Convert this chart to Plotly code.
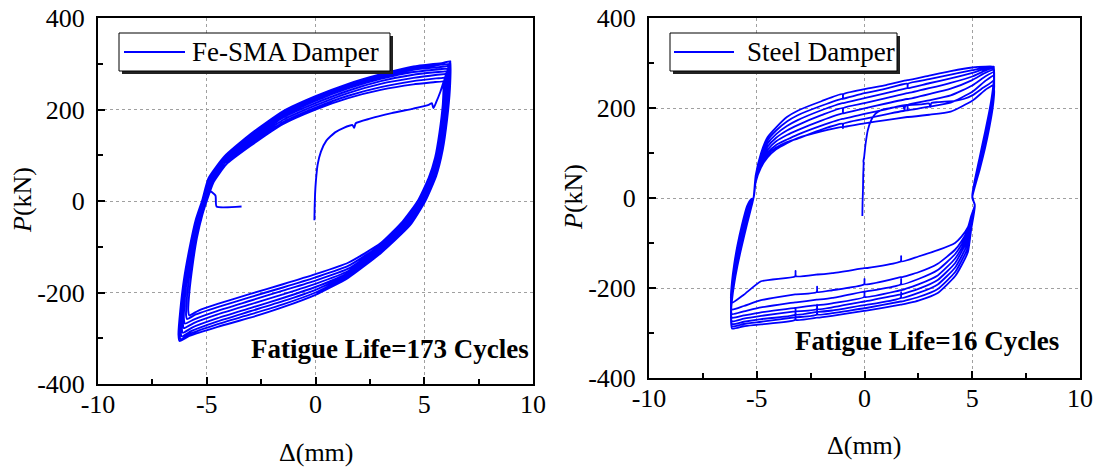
import plotly.graph_objects as go

# ---------------- Fe-SMA damper (left panel) ----------------
fe_init_x = [-0.05, -0.04, -0.02, 0.02, 0.1, 0.25, 0.5, 0.9, 1.3, 1.7, 1.78, 1.85, 2.5, 3.5, 4.5, 5.2, 5.35, 5.42, 5.55, 5.75, 5.9]
fe_init_p = [-42, -15, 15, 45, 80, 108, 132, 150, 160, 166, 160, 170, 180, 192, 202, 210, 214, 203, 216, 240, 262]

fe_c0_x = [5.9, 5.85, 5.7, 5.5, 5.2, 4.7, 4.0, 3.0, 1.5, 0.0, -1.5, -3.0, -4.5, -5.4, -5.8, -5.85, -5.8, -5.65, -5.45, -5.2, -5.0, -4.7, -4.1, -3.0, -1.5, 0.0, 1.5, 3.0, 4.5, 5.5, 5.9]
fe_c0_p = [262, 210, 150, 95, 50, 0, -45, -92, -135, -160, -182, -203, -225, -240, -250, -240, -200, -140, -80, -30, 0, 40, 80, 120, 168, 200, 225, 243, 255, 260, 262]

fe_c1_x = [5.95, 5.9, 5.75, 5.55, 5.25, 4.75, 4.05, 3.0, 1.5, 0.0, -1.5, -3.0, -4.5, -5.5, -5.9, -5.95, -5.9, -5.75, -5.5, -5.25, -5.05, -4.75, -4.15, -3.0, -1.5, 0.0, 1.5, 3.0, 4.5, 5.55, 5.95]
fe_c1_p = [270, 215, 155, 98, 50, 0, -47, -96, -142, -167, -189, -210, -232, -248, -258, -250, -205, -145, -82, -30, 0, 42, 84, 124, 172, 204, 230, 249, 262, 268, 270]

fe_c2_x = [6.0, 5.95, 5.8, 5.6, 5.3, 4.8, 4.1, 3.0, 1.5, 0.0, -1.5, -3.0, -4.5, -5.55, -6.0, -6.05, -6.0, -5.85, -5.6, -5.3, -5.1, -4.8, -4.2, -3.0, -1.5, 0.0, 1.5, 3.0, 4.5, 5.6, 6.0]
fe_c2_p = [278, 220, 158, 100, 50, 0, -48, -99, -148, -174, -196, -218, -240, -258, -268, -258, -210, -150, -85, -30, 0, 44, 87, 128, 177, 209, 236, 256, 269, 276, 278]

fe_c3_x = [6.05, 6.0, 5.85, 5.65, 5.35, 4.85, 4.15, 3.0, 1.5, 0.0, -1.5, -3.0, -4.5, -5.6, -6.05, -6.1, -6.04, -5.88, -5.62, -5.34, -5.12, -4.82, -4.2, -3.0, -1.5, 0.0, 1.5, 3.0, 4.5, 5.65, 6.05]
fe_c3_p = [284, 226, 162, 103, 50, 0, -49, -102, -153, -181, -204, -226, -248, -267, -278, -266, -215, -155, -88, -32, 0, 45, 89, 132, 182, 214, 241, 262, 276, 282, 284]

fe_c4_x = [6.1, 6.05, 5.9, 5.7, 5.4, 4.9, 4.2, 3.0, 1.5, 0.0, -1.5, -3.0, -4.5, -5.65, -6.1, -6.15, -6.08, -5.92, -5.66, -5.38, -5.15, -4.85, -4.2, -3.0, -1.5, 0.0, 1.5, 3.0, 4.5, 5.7, 6.1]
fe_c4_p = [290, 232, 166, 106, 52, 0, -50, -105, -157, -188, -212, -234, -256, -276, -288, -274, -222, -160, -92, -34, 0, 47, 91, 136, 186, 219, 246, 267, 282, 288, 290]

fe_c5_x = [6.1, 6.08, 5.95, 5.75, 5.45, 4.95, 4.25, 3.0, 1.5, 0.0, -1.5, -3.0, -4.5, -5.7, -6.15, -6.2, -6.13, -5.96, -5.7, -5.42, -5.18, -4.87, -4.2, -3.0, -1.5, 0.0, 1.5, 3.0, 4.5, 5.75, 6.1]
fe_c5_p = [295, 236, 170, 108, 52, 0, -51, -108, -161, -194, -219, -241, -263, -284, -296, -282, -228, -164, -95, -36, 0, 48, 93, 140, 190, 223, 250, 271, 287, 293, 295]

fe_c6_x = [6.15, 6.12, 6.0, 5.8, 5.5, 5.0, 4.3, 3.0, 1.5, 0.0, -1.5, -3.0, -4.5, -5.75, -6.2, -6.25, -6.18, -6.0, -5.74, -5.46, -5.2, -4.9, -4.2, -3.0, -1.5, 0.0, 1.5, 3.0, 4.5, 5.8, 6.15]
fe_c6_p = [300, 240, 174, 110, 54, 0, -52, -111, -164, -200, -226, -248, -269, -290, -302, -288, -234, -168, -98, -38, 0, 49, 95, 143, 193, 226, 253, 274, 291, 298, 300]

fe_c7_x = [6.2, 6.18, 6.05, 5.85, 5.55, 5.05, 4.35, 3.0, 1.5, 0.0, -1.5, -3.0, -4.5, -5.8, -6.25, -6.3, -6.22, -6.05, -5.78, -5.5, -5.22, -4.92, -4.2, -3.0, -1.5, 0.0, 1.5, 3.0, 4.5, 5.85, 6.2]
fe_c7_p = [305, 245, 178, 112, 55, 0, -53, -114, -168, -205, -232, -255, -275, -295, -306, -292, -240, -172, -100, -40, 0, 50, 97, 146, 196, 229, 256, 277, 294, 302, 305]

fe_end_x = [6.1, 6.05, 5.9, 5.7, 5.4, 4.9, 4.2, 3.0, 1.5, 0.0, -1.5, -3.0, -4.5, -5.65, -6.1, -6.15, -6.08, -5.92, -5.66, -5.38, -5.15, -4.95, -4.6, -4.55, -3.4]
fe_end_p = [290, 232, 166, 106, 52, 0, -50, -105, -157, -188, -212, -234, -256, -276, -288, -274, -222, -160, -92, -34, 0, 25, 12, -12, -12]

# ---------------- Steel damper (right panel) ----------------
st_init_x = [-0.1, -0.09, -0.07, -0.06, -0.04, -0.05, -0.02, 0.05, 0.15, 0.3, 0.5, 0.8, 1.2, 1.8, 1.85, 1.9, 2.6, 3.0, 3.05, 3.1, 3.4, 4.2, 4.6, 5.0, 5.5, 6.0]
st_init_p = [-40, -10, 20, 50, 78, 82, 90, 120, 150, 172, 187, 196, 200, 204, 196, 205, 208, 210, 202, 211, 213, 216, 220, 228, 245, 262]

# displacement path shared by every steel cycle: right unloading, lower branch, left reloading, upper branch
st_path_x = [6.0, 6.02, 5.95, 5.8, 5.6, 5.35, 5.1, 5.0,
             5.12, 4.95, 4.8, 4.5, 4.2, 3.4, 2.5, 1.72, 1.7, 1.68, 0.02, 0.0, -0.02, -1.5,
             -2.18, -2.2, -2.22, -3.18, -3.2, -3.22, -4.8, -5.6, -6.15,
             -6.2, -6.15, -6.05, -5.9, -5.7, -5.45, -5.25, -5.15,
             -5.05, -4.8, -4.5, -4.1, -3.6, -3.1, -2.0, -1.02, -1.0, -0.98, 0.0, 1.0,
             1.98, 2.0, 2.02, 3.0, 4.0, 5.0, 5.6, 6.0]

st_c7_p = ([292, 275, 240, 195, 148, 92, 35, 5]
           + [-18, -70, -120, -150, -174, -211, -228, -237, -237, -237, -251, -251, -251, -262,
              -266, -266, -266, -271, -259, -271, -281, -285, -290]
           + [-262, -228, -192, -152, -108, -58, -20, 0]
           + [50, 100, 135, 157, 180, 194, 215, 231, 220, 231, 242, 251, 262, 262, 262, 272, 282, 290, 292, 292])
st_c6_p = ([291, 272, 236, 190, 143, 88, 33, 4]
           + [-18, -65, -110, -140, -165, -202, -220, -230, -230, -230, -245, -245, -245, -256,
              -259, -249, -259, -265, -265, -265, -275, -280, -285]
           + [-256, -222, -185, -145, -101, -52, -17, 0]
           + [48, 96, 128, 150, 170, 184, 205, 221, 221, 221, 233, 243, 254, 244, 254, 264, 274, 284, 290, 291])
st_c5_p = ([290, 268, 232, 185, 138, 84, 31, 3]
           + [-17, -60, -100, -130, -155, -192, -211, -222, -210, -222, -238, -238, -238, -250,
              -253, -253, -253, -259, -247, -259, -269, -275, -280]
           + [-250, -216, -178, -138, -94, -46, -14, 0]
           + [46, 92, 121, 142, 160, 173, 195, 211, 211, 211, 222, 233, 244, 244, 244, 255, 266, 278, 287, 290])
st_c4_p = ([288, 264, 227, 180, 132, 80, 29, 2]
           + [-17, -55, -92, -120, -145, -182, -202, -214, -214, -214, -230, -230, -230, -243,
              -247, -237, -247, -252, -252, -252, -262, -268, -274]
           + [-246, -210, -172, -131, -87, -40, -11, 0]
           + [44, 88, 114, 134, 150, 162, 184, 200, 190, 200, 211, 222, 233, 233, 233, 244, 256, 270, 283, 288])
st_c3_p = ([285, 260, 222, 175, 127, 76, 27, 1]
           + [-16, -50, -85, -112, -135, -172, -192, -205, -205, -205, -220, -208, -220, -234,
              -238, -238, -238, -244, -244, -244, -254, -261, -266]
           + [-240, -204, -166, -124, -80, -34, -8, 0]
           + [42, 84, 107, 126, 140, 151, 172, 188, 188, 188, 199, 210, 220, 220, 220, 231, 243, 262, 278, 285])
st_c2_p = ([280, 255, 216, 170, 122, 72, 25, 0]
           + [-16, -46, -78, -104, -125, -160, -180, -192, -180, -192, -208, -208, -208, -222,
              -226, -226, -226, -232, -232, -232, -243, -252, -258]
           + [-236, -198, -160, -118, -74, -28, -6, 0]
           + [40, 80, 101, 118, 130, 141, 161, 176, 176, 176, 187, 197, 207, 197, 207, 217, 228, 250, 270, 280])
st_c1_p = ([272, 248, 210, 165, 117, 68, 23, 0]
           + [-15, -43, -70, -96, -115, -146, -165, -176, -176, -176, -192, -180, -192, -205,
              -209, -197, -209, -214, -214, -214, -227, -240, -248]
           + [-230, -192, -154, -112, -68, -23, -4, 0]
           + [38, 75, 96, 112, 124, 132, 152, 165, 155, 165, 176, 186, 195, 195, 195, 203, 212, 236, 260, 272])
st_c0_p = ([252, 236, 200, 158, 112, 64, 21, 0]
           + [-15, -40, -65, -86, -100, -116, -130, -141, -129, -141, -156, -156, -156, -167,
              -170, -170, -170, -174, -162, -174, -185, -215, -233]
           + [-222, -186, -148, -106, -62, -18, -2, 0]
           + [35, 68, 90, 108, 122, 133, 148, 158, 158, 158, 166, 173, 180, 180, 180, 185, 192, 216, 240, 252])

# tick labels
x_ticks = [-10, -5, 0, 5, 10]
x_tick_text = ["-10", "-5", "0", "5", "10"]
y_ticks = [-400, -200, 0, 200, 400]
y_tick_text = ["-400", "-200", "0", "200", "400"]

# ---------------- assemble the series ----------------
fe_parts = [(fe_init_x, fe_init_p), (fe_c0_x, fe_c0_p), (fe_c1_x, fe_c1_p), (fe_c2_x, fe_c2_p),
            (fe_c3_x, fe_c3_p), (fe_c4_x, fe_c4_p), (fe_c5_x, fe_c5_p), (fe_c6_x, fe_c6_p),
            (fe_c7_x, fe_c7_p), (fe_end_x, fe_end_p)]
fe_x, fe_p = [], []
for xs, ps in fe_parts:
    assert len(xs) == len(ps), (len(xs), len(ps))
    fe_x += xs
    fe_p += ps

st_x, st_p = list(st_init_x), list(st_init_p)
assert len(st_init_x) == len(st_init_p)
for ps in [st_c7_p, st_c6_p, st_c5_p, st_c4_p, st_c3_p, st_c2_p, st_c1_p, st_c0_p]:
    assert len(ps) == len(st_path_x), (len(ps), len(st_path_x))
    st_x += st_path_x
    st_p += ps

W, H = 1101, 472
FONT = "Liberation Serif"
BLUE = "#0000FF"

def px(v):
    return v / W

def py(v):
    return 1 - v / H

fig = go.Figure()
fig.add_trace(go.Scatter(x=fe_x, y=fe_p, mode="lines", line=dict(color=BLUE, width=1.9, shape="spline", smoothing=0.5),
                         name="Fe-SMA Damper", showlegend=False, xaxis="x", yaxis="y"))
fig.add_trace(go.Scatter(x=st_x, y=st_p, mode="lines", line=dict(color=BLUE, width=1.8, shape="spline", smoothing=0.5),
                         name="Steel Damper", showlegend=False, xaxis="x2", yaxis="y2"))

def xax(dom, anchor):
    return dict(domain=dom, anchor=anchor, range=[-10, 10], tickmode="array", tickvals=x_ticks, ticktext=x_tick_text,
                showline=True, linecolor="black", linewidth=2, mirror=True,
                ticks="inside", ticklen=7, tickwidth=1.5, tickcolor="black",
                showgrid=True, gridcolor="#a0a0a0", griddash="dot", gridwidth=1, zeroline=False,
                minor=dict(ticks="inside", ticklen=5, tickwidth=1.5, tickcolor="black", tickmode="array",
                           tickvals=[-7.5, -2.5, 2.5, 7.5], showgrid=False),
                tickfont=dict(family=FONT, size=26, color="black"), ticklabelstandoff=-4,
                automargin=False, fixedrange=True)

def yax(dom, anchor):
    return dict(domain=dom, anchor=anchor, range=[-400, 400], tickmode="array", tickvals=y_ticks, ticktext=y_tick_text,
                showline=True, linecolor="black", linewidth=2, mirror=True,
                ticks="inside", ticklen=7, tickwidth=1.5, tickcolor="black",
                showgrid=True, gridcolor="#a0a0a0", griddash="dot", gridwidth=1, zeroline=False,
                minor=dict(ticks="inside", ticklen=5, tickwidth=1.5, tickcolor="black", tickmode="array",
                           tickvals=[-300, -100, 100, 300], showgrid=False),
                tickfont=dict(family=FONT, size=26, color="black"), ticklabelstandoff=6,
                automargin=False, fixedrange=True)

L = dict(x0=98, x1=533, y0=18, y1=384)
R = dict(x0=649, x1=1080, y0=18, y1=378)

fig.update_layout(
    template="none",
    width=W, height=H, margin=dict(l=0, r=0, t=0, b=0, pad=0, autoexpand=False),
    paper_bgcolor="white", plot_bgcolor="white", showlegend=False,
    font=dict(family=FONT, size=26, color="black"),
    xaxis=xax([px(L["x0"]), px(L["x1"])], "y"),
    yaxis=yax([py(L["y1"]), py(L["y0"])], "x"),
    xaxis2=xax([px(R["x0"]), px(R["x1"])], "y2"),
    yaxis2=yax([py(R["y1"]), py(R["y0"])], "x2"),
)

shapes = []
annots = []

def legend_box(x0, x1, y0, y1, lx0, lx1, ly, tx, text):
    shapes.append(dict(type="rect", xref="paper", yref="paper", x0=px(x0 + 3), x1=px(x1 + 3), y0=py(y1 + 3), y1=py(y0 + 3),
                       fillcolor="#222222", line=dict(width=0), layer="above"))
    shapes.append(dict(type="rect", xref="paper", yref="paper", x0=px(x0), x1=px(x1), y0=py(y1), y1=py(y0),
                       fillcolor="white", line=dict(color="black", width=1), layer="above"))
    shapes.append(dict(type="line", xref="paper", yref="paper", x0=px(lx0), x1=px(lx1), y0=py(ly), y1=py(ly),
                       line=dict(color=BLUE, width=2.2), layer="above"))
    annots.append(dict(xref="paper", yref="paper", x=px(tx), y=py(ly), xanchor="left", yanchor="middle",
                       text=text, showarrow=False, font=dict(family=FONT, size=27, color="black")))

legend_box(119, 390, 33, 71, 124, 185, 52, 190, "Fe-SMA Damper")
legend_box(670, 897, 33, 71, 674, 734, 52, 745, "Steel Damper")

annots.append(dict(xref="paper", yref="paper", x=px(531), y=py(349), xanchor="right", yanchor="middle",
                   text="<b>Fatigue Life=173 Cycles</b>", showarrow=False, font=dict(family=FONT, size=27, color="black")))
annots.append(dict(xref="paper", yref="paper", x=px(1061), y=py(341), xanchor="right", yanchor="middle",
                   text="<b>Fatigue Life=16 Cycles</b>", showarrow=False, font=dict(family=FONT, size=27, color="black")))

# axis titles
annots.append(dict(xref="paper", yref="paper", x=px(316), y=py(452), xanchor="center", yanchor="middle",
                   text="Δ(mm)", showarrow=False, font=dict(family=FONT, size=26, color="black")))
annots.append(dict(xref="paper", yref="paper", x=px(864), y=py(445), xanchor="center", yanchor="middle",
                   text="Δ(mm)", showarrow=False, font=dict(family=FONT, size=26, color="black")))
annots.append(dict(xref="paper", yref="paper", x=px(22), y=py(200), xanchor="center", yanchor="middle", textangle=-90,
                   text="<i>P</i>(kN)", showarrow=False, font=dict(family=FONT, size=26, color="black")))
annots.append(dict(xref="paper", yref="paper", x=px(573), y=py(197), xanchor="center", yanchor="middle", textangle=-90,
                   text="<i>P</i>(kN)", showarrow=False, font=dict(family=FONT, size=26, color="black")))

fig.update_layout(shapes=shapes, annotations=annots)
fig.write_html("out.html")
